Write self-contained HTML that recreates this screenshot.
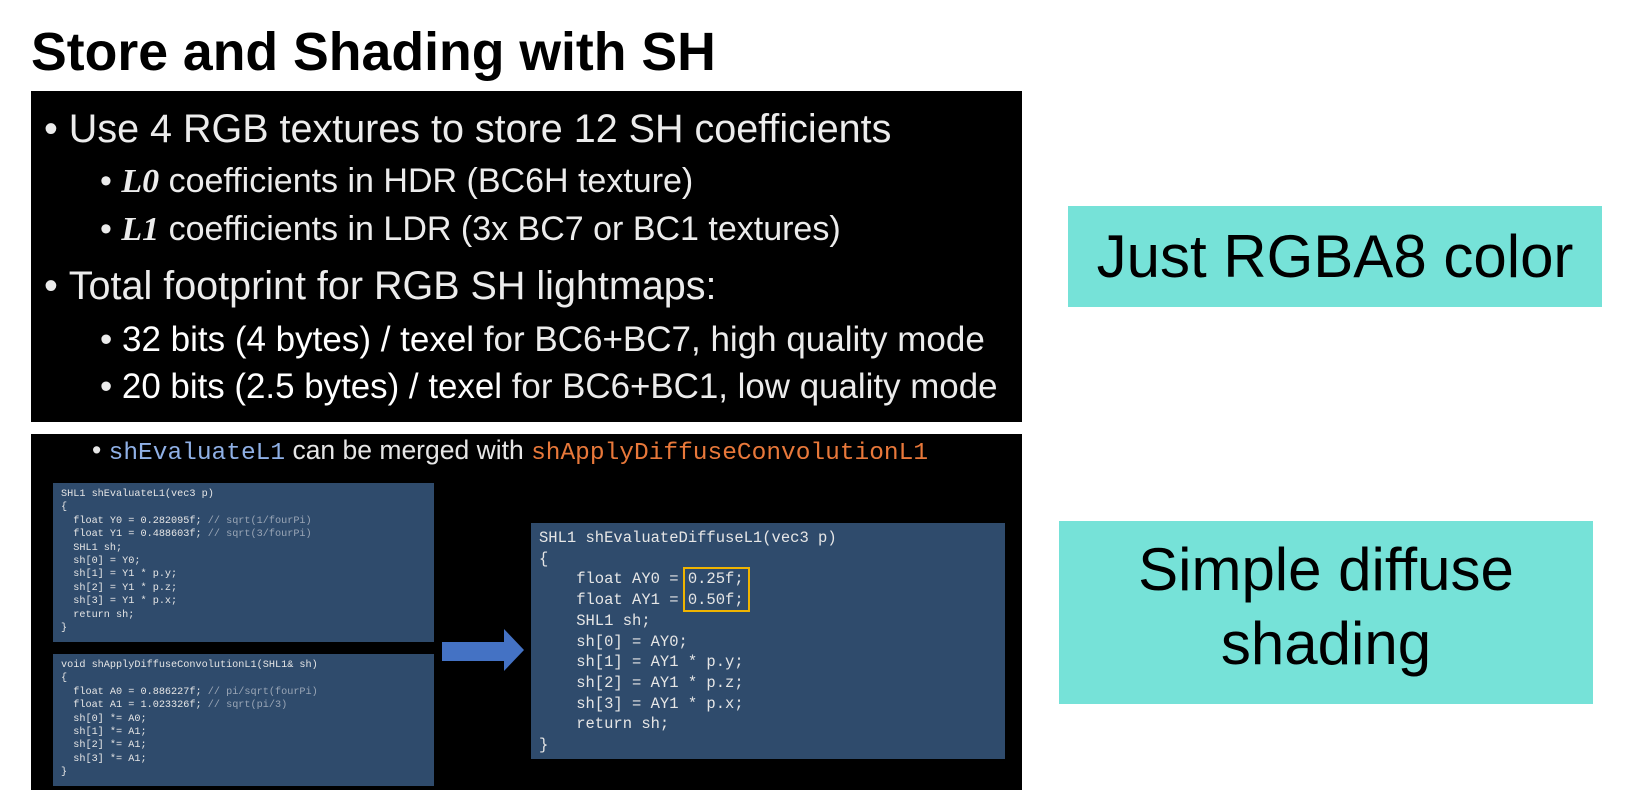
<!DOCTYPE html>
<html><head><meta charset="utf-8">
<style>
html,body{margin:0;padding:0;background:#fff;width:1642px;height:812px;overflow:hidden;position:relative;font-family:"Liberation Sans",sans-serif;}
.a{position:absolute;white-space:nowrap;}
.blk{position:absolute;background:#000;}
.top{color:#ececec;line-height:1;}
.code{position:absolute;background:#2f4b6c;}
.mono{font-family:"Liberation Mono",monospace;color:#e6e6e6;white-space:pre;position:absolute;}
.cm{color:#9aa6b6;}
.teal{position:absolute;background:#76e2d8;color:#000;text-align:center;}
.ms{font-family:"Liberation Serif",serif;font-style:italic;font-weight:bold;}
</style></head><body>
<div class="a" style="left:31px;top:22px;font-size:53.6px;font-weight:bold;line-height:60px;color:#000;">Store and Shading with SH</div>

<div class="blk" style="left:31px;top:91px;width:991px;height:331px;"></div>
<div class="a top" style="left:44px;top:110px;font-size:39.5px;">•&nbsp;Use 4 RGB textures to store 12 SH coefficients</div>
<div class="a top" style="left:100px;top:164px;font-size:34px;">•&nbsp;<span class="ms">L0</span> coefficients in HDR (BC6H texture)</div>
<div class="a top" style="left:100px;top:212px;font-size:34px;">•&nbsp;<span class="ms">L1</span> coefficients in LDR (3x BC7 or BC1 textures)</div>
<div class="a top" style="left:44px;top:267px;font-size:39.5px;">•&nbsp;Total footprint for RGB SH lightmaps:</div>
<div class="a top" style="left:100px;top:322px;font-size:35px;">•&nbsp;<span style="color:#fff">32 bits (4 bytes) / texel</span> for BC6+BC7, high quality mode</div>
<div class="a top" style="left:100px;top:370px;font-size:34.9px;">•&nbsp;<span style="color:#fff">20 bits (2.5 bytes) / texel</span> for BC6+BC1, low quality mode</div>

<div class="blk" style="left:31px;top:434px;width:991px;height:356px;"></div>
<div class="a" style="left:92px;top:436px;font-size:26.5px;line-height:28px;color:#e6e6e6;">•&nbsp;<span style="font-family:'Liberation Mono',monospace;color:#8fb0e6;font-size:24.5px;">shEvaluateL1</span> can be merged with <span style="font-family:'Liberation Mono',monospace;color:#e8783a;font-size:24.5px;">shApplyDiffuseConvolutionL1</span></div>

<div class="code" style="left:53px;top:483px;width:381px;height:159px;"></div>
<div class="mono" style="left:61px;top:488px;font-size:10.2px;line-height:13.4px;">SHL1 shEvaluateL1(vec3 p)
{
  float Y0 = 0.282095f; <span class="cm">// sqrt(1/fourPi)</span>
  float Y1 = 0.488603f; <span class="cm">// sqrt(3/fourPi)</span>
  SHL1 sh;
  sh[0] = Y0;
  sh[1] = Y1 * p.y;
  sh[2] = Y1 * p.z;
  sh[3] = Y1 * p.x;
  return sh;
}</div>
<div class="code" style="left:53px;top:654px;width:381px;height:132px;"></div>
<div class="mono" style="left:61px;top:659px;font-size:10.2px;line-height:13.4px;">void shApplyDiffuseConvolutionL1(SHL1&amp; sh)
{
  float A0 = 0.886227f; <span class="cm">// pi/sqrt(fourPi)</span>
  float A1 = 1.023326f; <span class="cm">// sqrt(pi/3)</span>
  sh[0] *= A0;
  sh[1] *= A1;
  sh[2] *= A1;
  sh[3] *= A1;
}</div>

<svg class="a" style="left:440px;top:626px;" width="90" height="50"><polygon points="2,16 64,16 64,3 84,24 64,45 64,35 2,35" fill="#4472c4"/></svg>

<div class="code" style="left:531px;top:523px;width:474px;height:236px;"></div>
<div class="mono" style="left:539px;top:528px;font-size:15.5px;line-height:20.7px;">SHL1 shEvaluateDiffuseL1(vec3 p)
{
    float AY0 = 0.25f;
    float AY1 = 0.50f;
    SHL1 sh;
    sh[0] = AY0;
    sh[1] = AY1 * p.y;
    sh[2] = AY1 * p.z;
    sh[3] = AY1 * p.x;
    return sh;
}</div>
<div class="a" style="left:683px;top:567px;width:63px;height:41px;border:2.5px solid #f0b400;"></div>

<div class="teal" style="left:1068px;top:206px;width:534px;height:101px;font-size:60px;line-height:101px;">Just RGBA8 color</div>
<div class="teal" style="left:1059px;top:521px;width:534px;height:183px;font-size:60px;line-height:74px;"><div style="padding-top:12px;">Simple diffuse<br>shading</div></div>
</body></html>
